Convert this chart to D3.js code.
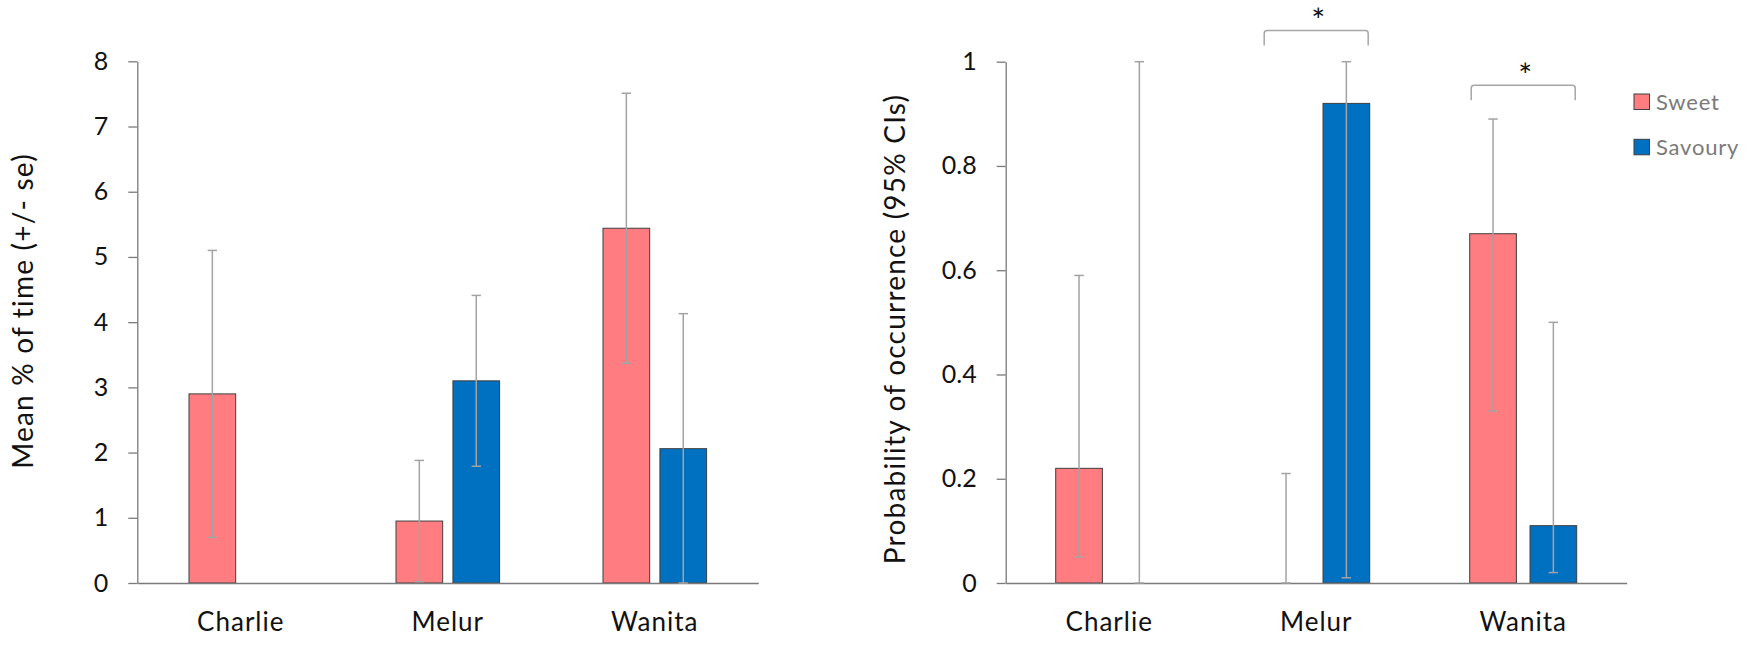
<!DOCTYPE html>
<html lang="en">
  <head>
    <meta charset="UTF-8" />
    <title>Sweet vs savoury by individual</title>
    <script src="https://d3js.org/d3.v7.min.js"></script>
    <style>
      body {
        margin: 0;
        background-color: #ffffff;
        font-family: Lato, "Open Sans", sans-serif;
      }
      svg {
        display: block;
      }
      .axis path,
      .axis line {
        stroke: #7a7a7a;
        stroke-width: 1.3px;
      }
      .axis text {
        fill: #111;
        font-family: Lato, "Open Sans", sans-serif;
      }
      .err {
        stroke: #a3a3a3;
        stroke-width: 1.5px;
      }
      .bracket {
        fill: none;
        stroke: #a6a6a6;
        stroke-width: 1.5px;
      }
    </style>
  </head>
  <body>
    <div id="chart"></div>
    <script>
      const categories = ["Charlie", "Melur", "Wanita"];
      const seriesNames = ["Sweet", "Savoury"];
      const seriesColors = ["#ff7c80", "#0070c0"];

      // left panel: mean % of time (+/- se)
      const timeSweet = [2.9, 0.95, 5.44];
      const timeSweetSe = [2.2, 0.93, 2.07];
      const timeSavoury = [0, 3.1, 2.06];
      const timeSavourySe = [null, 1.31, 2.07];
      const timeTicks = [0, 1, 2, 3, 4, 5, 6, 7, 8];

      // right panel: probability of occurrence (95% CIs)
      const probSweet = [0.22, 0, 0.67];
      const probSweetLow = [0.05, 0, 0.33];
      const probSweetHigh = [0.59, 0.21, 0.89];
      const probSavoury = [0, 0.92, 0.11];
      const probSavouryLow = [0, 0.01, 0.02];
      const probSavouryHigh = [1, 1, 0.5];
      const probTicks = [0, 0.2, 0.4, 0.6, 0.8, 1];

      // significance markers (right panel)
      const sigCategories = ["Melur", "Wanita"];
      const sigLevels = [1.06, 0.955];

      const width = 1748,
        height = 647;

      const svg = d3
        .select("#chart")
        .append("svg")
        .attr("width", width)
        .attr("height", height);

      // turn value + se into rows with low/high
      function seRows(values, ses) {
        return values.map((v, i) => ({
          cat: categories[i],
          value: v,
          low: ses[i] == null ? null : Math.max(0, v - ses[i]),
          high: ses[i] == null ? null : v + ses[i],
        }));
      }

      function ciRows(values, lows, highs) {
        return values.map((v, i) => ({ cat: categories[i], value: v, low: lows[i], high: highs[i] }));
      }

      function drawPanel(p) {
        const g = svg.append("g");

        const x0 = d3.scaleBand().domain(categories).range([p.left, p.right]);
        const x1 = d3
          .scaleBand()
          .domain(seriesNames)
          .range([-p.groupWidth / 2, p.groupWidth / 2])
          .paddingInner(p.barGap);
        const y = d3.scaleLinear().domain([0, p.max]).range([p.bottom, p.top]);

        // bars
        p.series.forEach((rows, si) => {
          const name = seriesNames[si];
          g.append("g")
            .selectAll("rect")
            .data(rows.filter((d) => d.value > 0))
            .join("rect")
            .attr("x", (d) => x0(d.cat) + x0.bandwidth() / 2 + x1(name))
            .attr("y", (d) => y(d.value))
            .attr("width", x1.bandwidth())
            .attr("height", (d) => y(0) - y(d.value))
            .attr("fill", seriesColors[si])
            .attr("stroke", "#3f3f3f")
            .attr("stroke-width", 1);
        });

        // axes
        g.append("g")
          .attr("class", "axis")
          .attr("transform", "translate(" + p.left + ",0)")
          .call(d3.axisLeft(y).tickValues(p.ticks).tickFormat((d) => d).tickSize(9).tickSizeOuter(0).tickPadding(20))
          .call((a) => a.selectAll("text").style("font-size", "25px"));

        g.append("g")
          .attr("class", "axis")
          .attr("transform", "translate(0," + p.bottom + ")")
          .call(d3.axisBottom(x0).tickSize(0).tickSizeOuter(0))
          .call((a) =>
            a
              .selectAll("text")
              .attr("y", 48)
              .attr("dy", 0)
              .style("font-size", "26px")
              .style("letter-spacing", "1px")
          );

        // error bars
        const cap = 4.7;
        p.series.forEach((rows, si) => {
          const name = seriesNames[si];
          const eb = g
            .append("g")
            .selectAll("g")
            .data(rows.filter((d) => d.low != null))
            .join("g")
            .attr("class", "err")
            .attr("transform", (d) => "translate(" + (x0(d.cat) + x0.bandwidth() / 2 + x1(name) + x1.bandwidth() / 2) + ",0)");
          eb.append("line").attr("y1", (d) => y(d.low)).attr("y2", (d) => y(d.high));
          eb.append("line").attr("x1", -cap).attr("x2", cap).attr("y1", (d) => y(d.high)).attr("y2", (d) => y(d.high));
          eb.append("line").attr("x1", -cap).attr("x2", cap).attr("y1", (d) => y(d.low)).attr("y2", (d) => y(d.low));
        });

        // y title
        g.append("text")
          .attr("transform", "translate(" + p.titleX + "," + p.titleY + ") rotate(-90)")
          .attr("text-anchor", "middle")
          .style("font-size", "28px")
          .style("letter-spacing", "1.2px")
          .attr("fill", "#111")
          .text(p.title);

        return { x0, y };
      }

      drawPanel({
        left: 137.3,
        right: 758.3,
        top: 61.3,
        bottom: 583,
        max: 8,
        ticks: timeTicks,
        groupWidth: 103.6,
        barGap: 0.18,
        series: [seRows(timeSweet, timeSweetSe), seRows(timeSavoury, timeSavourySe)],
        title: "Mean % of time (+/- se)",
        titleX: 33,
        titleY: 311,
      });

      const right = drawPanel({
        left: 1005.7,
        right: 1626.7,
        top: 61.7,
        bottom: 583,
        max: 1,
        ticks: probTicks,
        groupWidth: 107,
        barGap: 0.226,
        series: [
          ciRows(probSweet, probSweetLow, probSweetHigh),
          ciRows(probSavoury, probSavouryLow, probSavouryHigh),
        ],
        title: "Probability of occurrence (95% CIs)",
        titleX: 905,
        titleY: 329,
      });

      // significance brackets with stars
      sigCategories.forEach((c, i) => {
        const cx = right.x0(c) + right.x0.bandwidth() / 2;
        const top = right.y(sigLevels[i]);
        const hw = 52,
          leg = 15,
          r = 3;
        const path = d3.path();
        path.moveTo(cx - hw, top + leg);
        path.lineTo(cx - hw, top + r);
        path.quadraticCurveTo(cx - hw, top, cx - hw + r, top);
        path.lineTo(cx + hw - r, top);
        path.quadraticCurveTo(cx + hw, top, cx + hw, top + r);
        path.lineTo(cx + hw, top + leg);
        svg.append("path").attr("class", "bracket").attr("d", path.toString());
        svg
          .append("text")
          .attr("x", cx + 2)
          .attr("y", top + 2)
          .attr("text-anchor", "middle")
          .style("font-size", "33px")
          .attr("fill", "#111")
          .text("*");
      });

      // legend
      const legend = svg
        .append("g")
        .selectAll("g")
        .data(seriesNames)
        .join("g")
        .attr("transform", (d, i) => "translate(1634," + (94 + i * 45.3) + ")");
      legend
        .append("rect")
        .attr("width", 15.5)
        .attr("height", 15.5)
        .attr("fill", (d, i) => seriesColors[i])
        .attr("stroke", "#3f3f3f")
        .attr("stroke-width", 1);
      legend
        .append("text")
        .attr("x", 22)
        .attr("y", 15.5)
        .style("font-size", "22px")
        .style("letter-spacing", "0.8px")
        .attr("fill", "#7a7a7a")
        .text((d) => d);
    </script>
  </body>
</html>
